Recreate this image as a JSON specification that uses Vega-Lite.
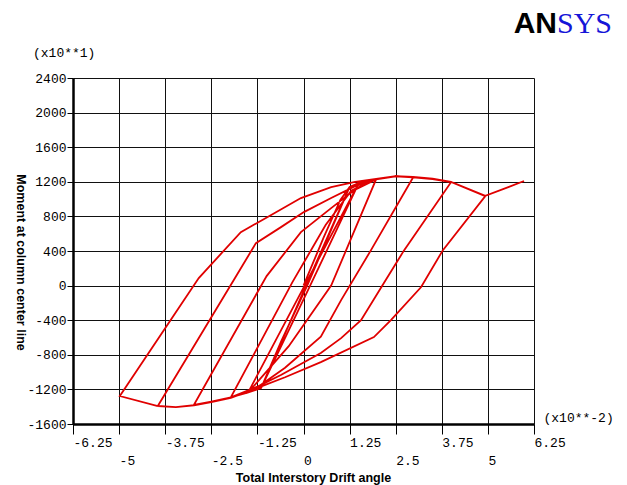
{
  "$schema": "https://vega.github.io/schema/vega-lite/v6.json",
  "width": 461,
  "height": 346,
  "autosize": {"type": "none"},
  "padding": {"left": 73, "top": 78, "right": 93, "bottom": 61},
  "background": "white",
  "config": {"view": {"stroke": null}},
  "datasets": {
    "loop": [
      {"step": 0, "drift": 0, "moment": 0},
      {"step": 1, "drift": 0.55, "moment": 560},
      {"step": 2, "drift": 1.0, "moment": 990},
      {"step": 3, "drift": 1.25, "moment": 1140},
      {"step": 4, "drift": 0.1, "moment": 0},
      {"step": 5, "drift": -0.6, "moment": -640},
      {"step": 6, "drift": -1.15, "moment": -1185},
      {"step": 7, "drift": 0.07, "moment": 0},
      {"step": 8, "drift": 1.25, "moment": 1140},
      {"step": 9, "drift": 1.5, "moment": 1185},
      {"step": 10, "drift": 0.18, "moment": 0},
      {"step": 11, "drift": -1.15, "moment": -1185},
      {"step": 12, "drift": -1.5, "moment": -1235},
      {"step": 13, "drift": 0.03, "moment": 0},
      {"step": 14, "drift": 1.5, "moment": 1185},
      {"step": 15, "drift": 1.97, "moment": 1230},
      {"step": 16, "drift": 0.75, "moment": 0},
      {"step": 17, "drift": -0.4, "moment": -700},
      {"step": 18, "drift": -1.5, "moment": -1235},
      {"step": 19, "drift": -1.97, "moment": -1292},
      {"step": 20, "drift": -0.3, "moment": 40},
      {"step": 21, "drift": 0.6, "moment": 700},
      {"step": 22, "drift": 1.3, "moment": 1100},
      {"step": 23, "drift": 1.97, "moment": 1232},
      {"step": 24, "drift": 2.5, "moment": 1262},
      {"step": 25, "drift": 2.97, "moment": 1250},
      {"step": 26, "drift": 1.83, "moment": 410},
      {"step": 27, "drift": 1.02, "moment": -168},
      {"step": 28, "drift": 0.47, "moment": -590},
      {"step": 29, "drift": -0.5, "moment": -950},
      {"step": 30, "drift": -1.2, "moment": -1160},
      {"step": 31, "drift": -1.97, "moment": -1292},
      {"step": 32, "drift": -2.5, "moment": -1340},
      {"step": 33, "drift": -2.97, "moment": -1378},
      {"step": 34, "drift": -1.0, "moment": 110},
      {"step": 35, "drift": -0.07, "moment": 618},
      {"step": 36, "drift": 0.75, "moment": 896},
      {"step": 37, "drift": 1.4, "moment": 1110},
      {"step": 38, "drift": 1.97, "moment": 1228},
      {"step": 39, "drift": 2.5, "moment": 1262},
      {"step": 40, "drift": 2.97, "moment": 1252},
      {"step": 41, "drift": 3.5, "moment": 1232},
      {"step": 42, "drift": 4.0, "moment": 1196},
      {"step": 43, "drift": 2.73, "moment": 410},
      {"step": 44, "drift": 2.18, "moment": 29},
      {"step": 45, "drift": 1.56, "moment": -399},
      {"step": 46, "drift": 1.02, "moment": -607},
      {"step": 47, "drift": 0.47, "moment": -780},
      {"step": 48, "drift": -0.6, "moment": -1030},
      {"step": 49, "drift": -1.3, "moment": -1180},
      {"step": 50, "drift": -1.97, "moment": -1295},
      {"step": 51, "drift": -2.5, "moment": -1345},
      {"step": 52, "drift": -2.97, "moment": -1382},
      {"step": 53, "drift": -3.46, "moment": -1404},
      {"step": 54, "drift": -3.95, "moment": -1392},
      {"step": 55, "drift": -1.89, "moment": 64},
      {"step": 56, "drift": -1.29, "moment": 491},
      {"step": 57, "drift": -0.61, "moment": 676},
      {"step": 58, "drift": 0.01, "moment": 850},
      {"step": 59, "drift": 0.75, "moment": 1012},
      {"step": 60, "drift": 1.4, "moment": 1150},
      {"step": 61, "drift": 1.97, "moment": 1230},
      {"step": 62, "drift": 2.5, "moment": 1264},
      {"step": 63, "drift": 2.97, "moment": 1254},
      {"step": 64, "drift": 3.5, "moment": 1234},
      {"step": 65, "drift": 4.0, "moment": 1198},
      {"step": 66, "drift": 4.93, "moment": 1035},
      {"step": 67, "drift": 3.78, "moment": 410},
      {"step": 68, "drift": 3.19, "moment": -17},
      {"step": 69, "drift": 2.37, "moment": -399},
      {"step": 70, "drift": 1.91, "moment": -595},
      {"step": 71, "drift": 0.47, "moment": -884},
      {"step": 72, "drift": -0.5, "moment": -1060},
      {"step": 73, "drift": -1.3, "moment": -1192},
      {"step": 74, "drift": -1.97, "moment": -1297},
      {"step": 75, "drift": -2.5, "moment": -1347},
      {"step": 76, "drift": -2.97, "moment": -1384},
      {"step": 77, "drift": -3.46, "moment": -1406},
      {"step": 78, "drift": -3.95, "moment": -1394},
      {"step": 79, "drift": -4.98, "moment": -1277},
      {"step": 80, "drift": -2.84, "moment": 87},
      {"step": 81, "drift": -1.7, "moment": 618},
      {"step": 82, "drift": -0.9, "moment": 810},
      {"step": 83, "drift": -0.07, "moment": 1012},
      {"step": 84, "drift": 0.75, "moment": 1139},
      {"step": 85, "drift": 1.4, "moment": 1200},
      {"step": 86, "drift": 1.97, "moment": 1234},
      {"step": 87, "drift": 2.5, "moment": 1266},
      {"step": 88, "drift": 2.97, "moment": 1256},
      {"step": 89, "drift": 3.5, "moment": 1236},
      {"step": 90, "drift": 4.0, "moment": 1200},
      {"step": 91, "drift": 4.93, "moment": 1037},
      {"step": 92, "drift": 5.98, "moment": 1209}
    ]
  },
  "layer": [
    {
      "data": {"name": "loop"},
      "mark": {"type": "line", "color": "#e00000", "strokeWidth": 1.8},
      "encoding": {
        "x": {
          "field": "drift", "type": "quantitative",
          "scale": {"domain": [-6.25, 6.25], "nice": false, "zero": false},
          "axis": {
            "values": [-6.25, -5, -3.75, -2.5, -1.25, 0, 1.25, 2.5, 3.75, 5, 6.25],
            "labelExpr": "(datum.value == -6.25 || datum.value == -3.75 || datum.value == -1.25 || datum.value == 1.25 || datum.value == 3.75 || datum.value == 6.25) ? toString(datum.value) : ''",
            "labelAlign": "left", "labelBaseline": "top", "labelPadding": 2,
            "labelFont": "Liberation Mono", "labelFontSize": 13, "labelColor": "#000",
            "labelFlush": false, "labelOverlap": false, "labelBound": false,
            "tickSize": 10, "tickColor": "#000", "tickWidth": 1,
            "domainColor": "#000", "domainWidth": 2.5,
            "grid": true, "gridColor": "#111", "gridWidth": 1, "gridOpacity": 1,
            "title": "(x10**-2)", "titleX": 470, "titleY": -7, "titleAlign": "left", "titleBaseline": "middle",
            "titleFont": "Liberation Mono", "titleFontSize": 13, "titleFontWeight": "normal", "titleColor": "#000"
          }
        },
        "y": {
          "field": "moment", "type": "quantitative",
          "scale": {"domain": [-1600, 2400], "nice": false, "zero": false},
          "axis": {
            "values": [-1600, -1200, -800, -400, 0, 400, 800, 1200, 1600, 2000, 2400],
            "labelExpr": "toString(datum.value)",
            "labelAlign": "right", "labelBaseline": "middle", "labelPadding": 1,
            "labelFont": "Liberation Mono", "labelFontSize": 13, "labelColor": "#000",
            "labelFlush": false, "labelOverlap": false, "labelBound": false,
            "tickSize": 6, "tickColor": "#000", "tickWidth": 1,
            "domainColor": "#000", "domainWidth": 2.5,
            "grid": true, "gridColor": "#111", "gridWidth": 1, "gridOpacity": 1,
            "title": "Moment at column center line", "titleAngle": 90, "titleX": -53, "titleY": 184,
            "titleAlign": "center", "titleBaseline": "middle",
            "titleFont": "Liberation Sans", "titleFontSize": 12.5, "titleFontWeight": "bold", "titleColor": "#000"
          }
        },
        "order": {"field": "step", "type": "quantitative"}
      }
    },
    {
      "data": {"name": "loop"},
      "mark": {"type": "line", "strokeOpacity": 0},
      "encoding": {
        "x": {
          "field": "drift", "type": "quantitative",
          "scale": {"domain": [-6.25, 6.25], "nice": false, "zero": false},
          "axis": {
            "orient": "bottom",
            "values": [-6.25, -5, -3.75, -2.5, -1.25, 0, 1.25, 2.5, 3.75, 5, 6.25],
            "labelExpr": "(datum.value == -5 || datum.value == -2.5 || datum.value == 0 || datum.value == 2.5 || datum.value == 5) ? toString(datum.value) : ''",
            "labelAlign": "left", "labelBaseline": "top", "labelPadding": 20,
            "labelFont": "Liberation Mono", "labelFontSize": 13, "labelColor": "#000",
            "labelFlush": false, "labelOverlap": false, "labelBound": false,
            "ticks": true, "tickSize": 10, "tickOpacity": 0,
            "domain": false, "grid": false,
            "title": "Total Interstory Drift angle", "titleX": 240, "titleY": 53, "titleAlign": "center", "titleBaseline": "middle",
            "titleFont": "Liberation Sans", "titleFontSize": 12.5, "titleFontWeight": "bold", "titleColor": "#000"
          }
        },
        "y": {
          "field": "moment", "type": "quantitative",
          "scale": {"domain": [-1600, 2400], "nice": false, "zero": false},
          "axis": null
        },
        "order": {"field": "step", "type": "quantitative"}
      }
    },
    {
      "data": {"values": [{"word": "(x10**1)"}]},
      "mark": {"type": "text", "align": "left", "baseline": "alphabetic", "font": "Liberation Mono", "fontSize": 13, "color": "#000"},
      "encoding": {
        "text": {"field": "word", "type": "nominal"},
        "x": {"datum": -7.335, "type": "quantitative", "scale": {"domain": [-6.25, 6.25], "nice": false, "zero": false}, "axis": null},
        "y": {"datum": 2643, "type": "quantitative", "scale": {"domain": [-1600, 2400], "nice": false, "zero": false}, "axis": null}
      }
    },
    {
      "data": {"values": [{"word": "AN"}]},
      "mark": {"type": "text", "align": "right", "baseline": "alphabetic", "font": "Liberation Sans", "fontSize": 30, "fontWeight": "bold", "color": "#000"},
      "encoding": {
        "text": {"field": "word", "type": "nominal"},
        "x": {"datum": 6.874, "type": "quantitative", "scale": {"domain": [-6.25, 6.25], "nice": false, "zero": false}, "axis": null},
        "y": {"datum": 2920, "type": "quantitative", "scale": {"domain": [-1600, 2400], "nice": false, "zero": false}, "axis": null}
      }
    },
    {
      "data": {"values": [{"word": "SYS"}]},
      "mark": {"type": "text", "align": "left", "baseline": "alphabetic", "font": "Liberation Serif", "fontSize": 30, "fontWeight": "normal", "color": "#1515d8"},
      "encoding": {
        "text": {"field": "word", "type": "nominal"},
        "x": {"datum": 6.874, "type": "quantitative", "scale": {"domain": [-6.25, 6.25], "nice": false, "zero": false}, "axis": null},
        "y": {"datum": 2920, "type": "quantitative", "scale": {"domain": [-1600, 2400], "nice": false, "zero": false}, "axis": null}
      }
    }
  ],
  "resolve": {"axis": {"x": "independent", "y": "independent"}}
}
